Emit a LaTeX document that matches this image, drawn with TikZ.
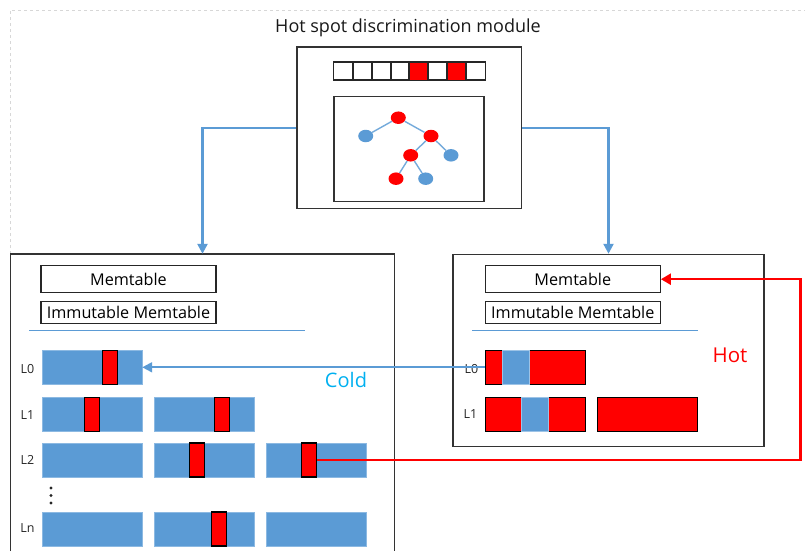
\documentclass[tikz,border=0pt]{standalone}
\usepackage{fontspec}
\setmainfont{Open Sans}
\usetikzlibrary{arrows.meta,shapes.geometric}
\definecolor{cblue}{RGB}{91,155,213}
\definecolor{cred}{RGB}{255,0,0}
\definecolor{ccold}{RGB}{0,176,240}
\definecolor{cframe}{RGB}{215,215,215}
\begin{document}
\begin{tikzpicture}[x=1pt,y=-1pt,
  box/.style={draw=black!80, line width=1.5pt, inner sep=0pt, fill=white},
  thinbox/.style={draw=black!85, line width=1.2pt, inner sep=0pt, fill=white, font=\fontsize{16.2}{18}\selectfont},
  cell/.style={draw=black!85, line width=1pt, inner sep=0pt, minimum width=18.9pt, minimum height=17pt},
  bluebar/.style={fill=cblue, draw=cblue!70!white, line width=0.4pt, inner sep=0pt, minimum width=100pt, minimum height=34pt},
  redbar/.style={fill=cred, draw=black, line width=1.1pt, inner sep=0pt, minimum width=100pt, minimum height=34pt},
  marker/.style={fill=cred, draw=black, line width=1.1pt, inner sep=0pt, minimum width=15pt, minimum height=34pt},
  bluepatch/.style={fill=cblue, draw=cblue!60!white, line width=0.6pt, inner sep=0pt, minimum width=26.5pt, minimum height=34pt},
  tnode/.style={ellipse, inner sep=0pt, minimum width=15pt, minimum height=12.5pt},
  tedge/.style={draw=cblue!85!white, line width=1.4pt},
  lvl/.style={font=\fontsize{12.5}{14}\selectfont, text=black!85, inner sep=0pt},
  bluearrow/.style={draw=cblue, line width=2.4pt, -{Triangle[length=10pt,width=10pt]}},
  redarrow/.style={draw=cred, line width=2.4pt, -{Triangle[length=10pt,width=11pt]}},
  sepline/.style={draw=cblue, line width=1pt}
]
\useasboundingbox (0,0) rectangle (805,551);
% faint frame
\draw[cframe, dashed, line width=0.7pt] (10,254) -- (10,10) -- (805,10);

% title
\node[font=\fontsize{18}{20}\selectfont, text=black!90] (title) at (408,28) {Hot spot discrimination module};

% top module
\node[box, minimum width=224.5pt, minimum height=161pt] (top) at (409,127.75) {};
\foreach \i in {1,...,8} {
  \pgfmathsetmacro{\cx}{333.8+18.9*(\i-0.5)}
  \node[cell] (cell\i) at (\cx,71) {};
}
\fill[cred] (cell5.south west) rectangle (cell5.north east);
\fill[cred] (cell7.south west) rectangle (cell7.north east);
\foreach \i in {1,...,8} { \draw[black!85, line width=1pt] (cell\i.south west) rectangle (cell\i.north east); }

\node[box, minimum width=150pt, minimum height=105pt] (tree) at (409,149.2) {};
\node[tnode, fill=cred]  (n1) at (398.3,117.7) {};
\node[tnode, fill=cblue] (n2) at (365.7,136) {};
\node[tnode, fill=cred]  (n3) at (431,136) {};
\node[tnode, fill=cred]  (n4) at (410.7,155.3) {};
\node[tnode, fill=cblue] (n5) at (451,155.3) {};
\node[tnode, fill=cred]  (n6) at (396,178.7) {};
\node[tnode, fill=cblue] (n7) at (425.7,178.7) {};
\path[tedge] (n1) -- (n2);
\path[tedge] (n1) -- (n3);
\path[tedge] (n3) -- (n4);
\path[tedge] (n3) -- (n5);
\path[tedge] (n4) -- (n6);
\path[tedge] (n4) -- (n7);

% left store (bottom runs off the picture)
\node[inner sep=0pt, minimum width=384pt, minimum height=297pt] (lbox) at (202.5,402.5) {};
\draw[black!80, line width=1.5pt] (lbox.south west) -- (lbox.north west) -- (lbox.north east) -- (lbox.south east);
\node[thinbox, minimum width=175pt, minimum height=27pt] (lmem) at (128.5,279) {Memtable};
\node[thinbox, minimum width=175pt, minimum height=22pt] (limm) at (128.5,312.3) {Immutable Memtable};
\draw[sepline] (29,330) -- (305,330);

% right store
\node[box, minimum width=311pt, minimum height=192pt] (rbox) at (608.5,350.5) {};
\node[thinbox, minimum width=175pt, minimum height=27pt] (rmem) at (572.8,279.2) {Memtable};
\node[thinbox, minimum width=175pt, minimum height=22pt] (rimm) at (572.8,312.3) {Immutable Memtable};
\draw[sepline] (472,330) -- (698,330);

% left levels
\node[lvl] (lL0) at (27.5,369) {L0};
\node[lvl] (lL1) at (27.5,415) {L1};
\node[lvl] (lL2) at (27.5,460) {L2};
\node[lvl] (lLn) at (27.5,528) {Ln};
\node[bluebar] (a0) at (92,367.3) {};
\node[bluebar] (a1) at (92,414.3) {};
\node[bluebar] (b1) at (204.2,414.3) {};
\node[bluebar] (a2) at (92,460) {};
\node[bluebar] (b2) at (204.2,460) {};
\node[bluebar] (c2) at (316.3,460) {};
\node[bluebar] (an) at (92,529) {};
\node[bluebar] (bn) at (204.2,529) {};
\node[bluebar] (cn) at (316.3,529) {};
\node[marker] (m0) at (109.7,367.3) {};
\node[marker] (m1a) at (91.7,414.3) {};
\node[marker] (m1b) at (221.8,414.3) {};
\node[marker] (m2b) at (197,460) {};
\node[marker] (m2c) at (309.3,460) {};
\node[marker] (mnb) at (218.7,529) {};
\fill[black!85] (51,488) circle (1.6pt);
\fill[black!85] (51,495.5) circle (1.6pt);
\fill[black!85] (51,503) circle (1.6pt);

% right levels
\node[lvl] (rL1) at (470.5,414) {L1};
\node[redbar] (r0) at (535.3,367.3) {};
\node[bluepatch] (p0) at (515.8,367.3) {};
\node[lvl] (rL0) at (471.5,369) {L0};
\node[redbar] (r1) at (535.3,414.3) {};
\node[bluepatch] (p1) at (534.8,414.3) {};
\node[redbar] (r1b) at (647.3,414.3) {};

% labels
\node[font=\fontsize{20}{22}\selectfont, text=ccold, inner sep=0pt] (cold) at (346,379.5) {Cold};
\node[font=\fontsize{20.5}{22}\selectfont, text=cred, inner sep=0pt] (hot) at (730,355) {Hot};

% connectors
\draw[bluearrow] (top.west) -| (lbox.north);
\draw[bluearrow] (top.east) -| (rbox.north);
\draw[bluearrow, line width=2pt] (r0.west) -- (a0.east);
\coordinate (turnA) at (800.5,460);
\coordinate (turnB) at (800.5,279.2);
\draw[redarrow] (m2c.east) -- (turnA) -- (turnB) -- (rmem.east);
\end{tikzpicture}
\end{document}
